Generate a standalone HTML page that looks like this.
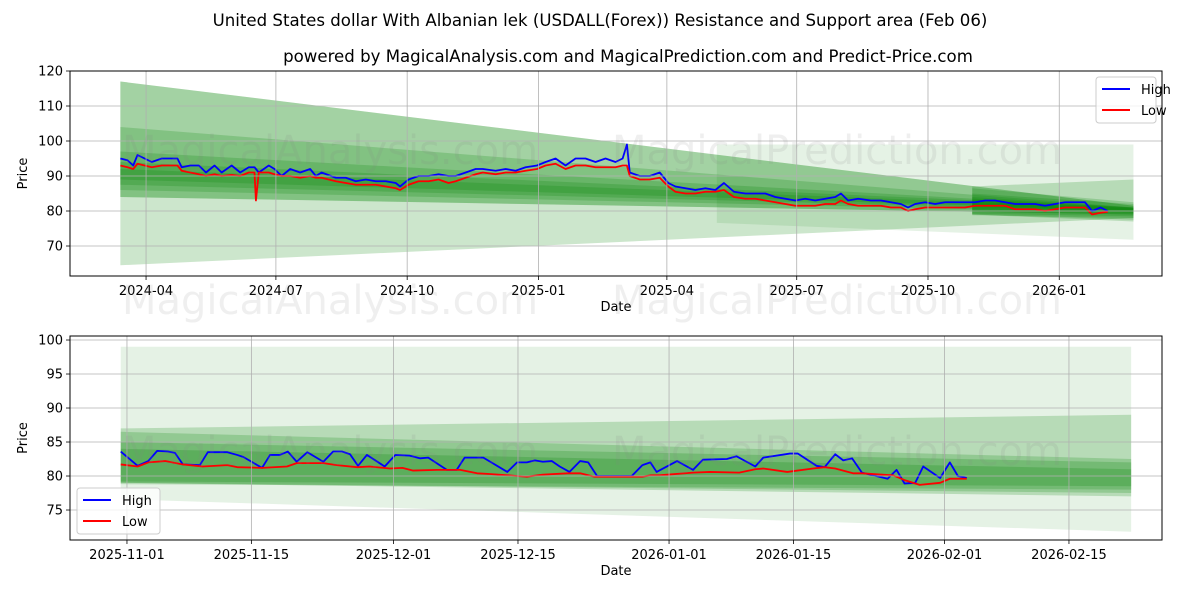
<!DOCTYPE html>
<html><head><meta charset="utf-8">
<style>
body{margin:0;background:#fff;}
svg{display:block;font-family:"DejaVu Sans","Liberation Sans",sans-serif;}
</style></head>
<body>
<svg id="chart" width="1200" height="600" viewBox="0 0 1200 600" xmlns="http://www.w3.org/2000/svg">
<rect width="1200" height="600" fill="#fff"/>
<text x="600" y="26" text-anchor="middle" font-size="16.6" fill="#000">United States dollar With Albanian lek (USDALL(Forex)) Resistance and Support area (Feb 06)</text>
<text x="628" y="62" text-anchor="middle" font-size="16.6" fill="#000">powered by MagicalAnalysis.com and MagicalPrediction.com and Predict-Price.com</text>
<g id="top"></g>
<g id="bot"></g>
</svg>
<script>
// ---- data: top chart (days since 2024-04-01) ----
const topDays=[-18,-13,-9,-6,-1,4,11,22,25,31,37,42,48,53,60,66,72,76,77,79,86,90,95,101,108,115,119,123,133,140,147,154,161,168,175,178,184,191,198,205,212,217,224,231,236,245,252,259,266,274,280,287,294,301,308,315,322,329,334,337,339,346,353,360,366,371,378,385,392,399,405,412,420,427,434,441,448,455,462,469,476,483,487,492,499,508,515,522,529,534,539,546,553,560,567,574,581,588,595,602,609,616,623,630,637,644,651,658,663,669,674];
const topHigh=[95,94.5,93,96,95,94,95,95,92.5,93,93,91,93,91,93,91,92.5,92.5,92,91,93,92,90,92,91,92,90,91,89.5,89.5,88.5,89,88.5,88.5,88,87,89,90,90,90.5,90,90,91,92,92,91.5,92,91.5,92.5,93,94,95,93,95,95,94,95,94,95,99,91,90,90,91,88,87,86.5,86,86.5,86,88,85.5,85,85,85,84,83.5,83,83.5,83,83.5,84,85,83,83.5,83,83,82.5,82,81,82,82.5,82,82.5,82.5,82.5,82.5,83,83,82.5,82,82,82,81.5,82,82.5,82.5,82.5,80,81,80];
const topLow=[93,92.5,92,93.5,93,92.5,93,93,91.5,91,90.5,90,90.5,90,90.3,90,91,91,83,91,91,90.5,90,90,89.5,90,89.5,89.5,88.5,88,87.5,87.5,87.5,87,86.5,86,87.5,88.5,88.5,89,88,88.5,89.5,90.5,91,90.5,91,91,91.5,92,93,93.5,92,93,93,92.5,92.5,92.5,93,93,90,89,89,89.5,87,85.5,85,85,85.5,85.5,86,84,83.5,83.5,83,82.5,82,81.5,81.5,81.5,82,82,83,82,81.5,81.5,81.5,81,81,80,80.5,81,81,81,81,81,81.5,81.5,81.5,81.5,80.5,80.5,80.5,80,80.5,81,81,81,79,79.5,79.8];
const topXTicks=[0,91,183,275,365,456,548,640];
const topXLabels=["2024-04","2024-07","2024-10","2025-01","2025-04","2025-07","2025-10","2026-01"];
const topYTicks=[70,80,90,100,110,120];
// long-term bands: [startLow, startHigh, endLow, endHigh]
const longBandStart=-18, longBandEnd=692;
const longBands=[[64.5,117,78,81.5],[84,117,79,81.5],[84,104,79,81],[86,97,79.5,81],[87.5,94,80,81],[89,92,80.2,80.8]];
// short-term bands (start day in top chart per band)
const shortBandStartTop=[400,579,579,579,579], shortBandEndTop=692;
const shortBands=[[76.6,99,71.8,99],[79,87,77,89],[79,86.5,77.5,82.5],[78.8,85,78,82],[79.2,84,78.5,81]];
const shortAlpha=[0.1,0.2,0.2,0.2,0.2];
// ---- data: bottom chart (days since 2025-11-01) ----
const shortBandStart=[-0.7,-0.7,-0.7,-0.7,-0.7], shortBandEnd=113;
const botHiDays=[-0.7,1.2,2.4,3.4,4.6,5.4,6.3,8.2,9.1,11.3,12.4,13.1,15.2,16.1,17.2,18.1,19.1,20.3,22.1,23.2,24.2,25.1,26,27,29,30.2,31.8,33,33.9,36,37.1,38,40.1,42.8,43.9,45,45.9,46.8,47.8,48.7,49.8,51,51.9,52.9,56.8,58,58.9,59.6,61.9,63.7,64.8,67.5,68.6,70.7,71.6,74.6,75.5,77.6,78.5,79.7,80.6,81.6,82.7,85.6,86.6,87.5,88.7,89.6,91.5,92.6,93.5,94.5];
const botHigh=[83.6,81.5,82.2,83.7,83.6,83.4,81.7,81.6,83.5,83.5,83.1,82.8,81.2,83.1,83.1,83.6,82.1,83.5,82.1,83.6,83.6,83.2,81.5,83.1,81.4,83.1,83,82.6,82.7,80.9,80.9,82.7,82.7,80.6,82,82,82.3,82.1,82.2,81.4,80.6,82.2,82,80,80,81.6,82,80.6,82.2,80.9,82.4,82.5,82.9,81.4,82.7,83.3,83.3,81.5,81.3,83.2,82.3,82.6,80.5,79.6,80.9,78.9,79,81.4,79.7,82,80,79.7];
const botLoDays=[-0.7,1.2,2.4,4.3,6.3,8.5,11.3,12.4,15.2,18,19.1,22.1,23.6,25.9,27.3,29.6,31,32.2,34.9,37.5,39.4,40.8,43.9,45,46.8,49.6,51,52.6,58,58.9,59.9,63.7,65.6,68.9,70.7,71.6,74.3,77.2,78.5,79.7,81.7,82.7,86.2,87.5,89.2,91.5,92.6,93.5,94.5];
const botLow=[81.7,81.4,82,82.2,81.7,81.4,81.6,81.3,81.2,81.4,81.9,81.9,81.6,81.3,81.4,81.1,81.2,80.8,80.9,80.9,80.4,80.3,80,79.9,80.2,80.4,80.4,79.9,79.9,80.1,80.1,80.5,80.6,80.5,81,81.1,80.6,81.1,81.3,81.1,80.4,80.4,80.1,79.4,78.7,79,79.6,79.6,79.6];
const botXTicks=[0,14,30,44,61,75,92,106];
const botXLabels=["2025-11-01","2025-11-15","2025-12-01","2025-12-15","2026-01-01","2026-01-15","2026-02-01","2026-02-15"];
const botYTicks=[75,80,85,90,95,100];

const NS="http://www.w3.org/2000/svg";
function mk(parent,tag,attrs){const e=document.createElementNS(NS,tag);for(const k in attrs)e.setAttribute(k,attrs[k]);parent.appendChild(e);return e;}

function panel(g,cfg){
  const {x0,x1,y0,y1,d0,d1,v0,v1}=cfg;
  const X=d=>x0+(d-d0)/(d1-d0)*(x1-x0);
  const Y=v=>y1-(v-v0)/(v1-v0)*(y1-y0);
  const clipId='clip'+cfg.id;
  const defs=mk(g,'defs',{});const cp=mk(defs,'clipPath',{id:clipId});mk(cp,'rect',{x:x0,y:y0,width:x1-x0,height:y1-y0});
  const plot=mk(g,'g',{'clip-path':`url(#${clipId})`});
  function band(b,s,e,alpha,name){
    const p=mk(plot,'polygon',{points:`${X(s)},${Y(b[0])} ${X(s)},${Y(b[1])} ${X(e)},${Y(b[3])} ${X(e)},${Y(b[2])}`,fill:'#008000','fill-opacity':alpha});
    
    
  }
  shortBands.forEach((b,i)=>band(b,cfg.sStart[i],cfg.sEnd,shortAlpha[i],'short-band-'+i));
  if(cfg.long) longBands.forEach((b,i)=>band(b,longBandStart,longBandEnd,0.2,'long-band-'+i));
  cfg.xt.forEach((d,i)=>{
    const gl=mk(g,'line',{x1:X(d),x2:X(d),y1:y0,y2:y1,stroke:'#b0b0b0','stroke-width':0.8});
    
    
    mk(g,'line',{x1:X(d),x2:X(d),y1:y1,y2:y1+4,stroke:'#000','stroke-width':0.8});
    const t=mk(g,'text',{x:X(d),y:y1+19,'text-anchor':'middle','font-size':13});t.textContent=cfg.xl[i];
    
    
  });
  cfg.yt.forEach(v=>{
    const gl=mk(g,'line',{x1:x0,x2:x1,y1:Y(v),y2:Y(v),stroke:'#b0b0b0','stroke-width':0.8});
    
    
    mk(g,'line',{x1:x0-4,x2:x0,y1:Y(v),y2:Y(v),stroke:'#000','stroke-width':0.8});
    const t=mk(g,'text',{x:x0-7,y:Y(v)+4.5,'text-anchor':'end','font-size':13});t.textContent=v;
    
    
  });
  cfg.wm.forEach(w=>{const t=mk(g,'text',{x:w[0],y:w[1],'text-anchor':'middle','font-size':40,fill:'#808080','fill-opacity':0.13});t.textContent=w[2];
    
    });
  function line(days,vals,color,name){
    const pl=mk(plot,'polyline',{points:days.map((d,i)=>X(d)+','+Y(vals[i])).join(' '),fill:'none',stroke:color,'stroke-width':1.8,'stroke-linejoin':'round'});
    
    
  }
  line(cfg.hd,cfg.hv,'#0000ff','high-line');
  line(cfg.ld,cfg.lv,'#ff0000','low-line');
  const fr=mk(g,'rect',{x:x0,y:y0,width:x1-x0,height:y1-y0,fill:'none',stroke:'#000','stroke-width':1});
  
  
  const xl=mk(g,'text',{x:(x0+x1)/2,y:y1+35,'text-anchor':'middle','font-size':13});xl.textContent='Date';
  
  
  const yl=mk(g,'text',{x:0,y:0,'text-anchor':'middle','font-size':13,transform:`translate(27,${(y0+y1)/2}) rotate(-90)`});yl.textContent='Price';
  
  
  const [lx,ly]=cfg.leg;
  const lg=mk(g,'g',{});
  
  
  mk(lg,'rect',{x:lx,y:ly,width:cfg.legW,height:46,rx:3,fill:'#fff','fill-opacity':0.8,stroke:'#cccccc'});
  [['High','#0000ff'],['Low','#ff0000']].forEach((e,i)=>{
    mk(lg,'line',{x1:lx+6,x2:lx+34,y1:ly+12+i*21,y2:ly+12+i*21,stroke:e[1],'stroke-width':2});
    const t=mk(lg,'text',{x:lx+45,y:ly+17+i*21,'font-size':13});t.textContent=e[0];
    
    
  });
}
panel(document.getElementById('top'),{id:'t',x0:70,x1:1162,y0:71,y1:276,d0:-53.3,d1:712,v0:61.43,v1:120,long:true,sStart:shortBandStartTop,sEnd:shortBandEndTop,
  xt:topXTicks,xl:topXLabels,yt:topYTicks,hd:topDays,hv:topHigh,ld:topDays,lv:topLow,leg:[1096,77],legW:60,
  wm:[[330,164,'MagicalAnalysis.com'],[837,164,'MagicalPrediction.com'],[330,314,'MagicalAnalysis.com'],[837,314,'MagicalPrediction.com']]});
panel(document.getElementById('bot'),{id:'b',x0:70,x1:1162,y0:336,y1:540,d0:-6.41,d1:116.47,v0:70.59,v1:100.59,long:false,sStart:shortBandStart,sEnd:shortBandEnd,
  xt:botXTicks,xl:botXLabels,yt:botYTicks,hd:botHiDays,hv:botHigh,ld:botLoDays,lv:botLow,leg:[77,488],legW:83,
  wm:[[330,465,'MagicalAnalysis.com'],[837,465,'MagicalPrediction.com']]});
</script>
</body></html>
